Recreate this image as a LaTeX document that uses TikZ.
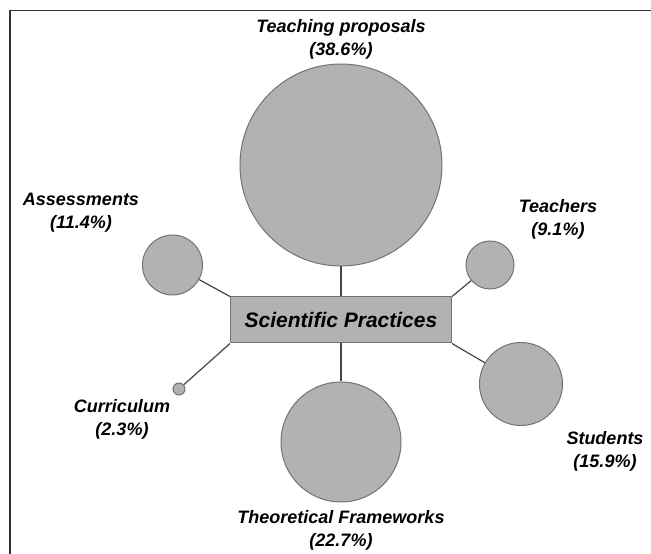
\documentclass[tikz,border=0pt]{standalone}
\usepackage{fontspec}
\setmainfont{Liberation Sans}
\usetikzlibrary{positioning}

\definecolor{bubblegray}{RGB}{178,178,178}
\definecolor{rimgray}{RGB}{115,115,115}
\definecolor{linkgray}{RGB}{70,70,70}

\tikzset{
  bubble/.style={circle, draw=rimgray, fill=bubblegray, line width=1pt, inner sep=0pt},
  caption/.style={align=center, font=\fontsize{18}{23}\selectfont\bfseries\itshape},
  link/.style={draw=linkgray, line width=1.2pt}
}

\begin{document}
\begin{tikzpicture}[x=1pt, y=1pt, node distance=100pt, on grid]
  \useasboundingbox (-341,-234) rectangle (310,320);
  \draw[line width=1.6pt, draw=black!80] (-331,-234) -- (-331,309.5) -- (310,309.5);

  \node[draw=rimgray, fill=bubblegray, line width=1pt, minimum width=221pt, minimum height=46pt,
        font=\fontsize{21}{25}\selectfont\bfseries\itshape] (sp) {Scientific Practices};

  \node[bubble, minimum size=202pt] (tp) [above=155pt of sp] {};
  \node[bubble, minimum size=120pt] (tf) [below=122pt of sp] {};
  \node[bubble, minimum size=60pt] (as) [above left=55pt and 168.5pt of sp] {};
  \node[bubble, minimum size=48pt] (te) [above right=55pt and 149pt of sp] {};
  \node[bubble, minimum size=12pt] (cu) [below left=69pt and 162pt of sp] {};
  \node[bubble, minimum size=83pt] (st) [below right=64pt and 180pt of sp] {};

  \node[caption] (tp-l) [above=126pt of tp] {Teaching proposals\\(38.6\%)};
  \node[caption] (tf-l) [below=88pt of tf] {Theoretical Frameworks\\(22.7\%)};
  \node[caption] (as-l) [above left=52pt and 91.5pt of as] {Assessments\\(11.4\%)};
  \node[caption] (te-l) [above right=46pt and 68pt of te] {Teachers\\(9.1\%)};
  \node[caption] (cu-l) [below left=30.5pt and 57pt of cu] {Curriculum\\(2.3\%)};
  \node[caption] (st-l) [below right=67.5pt and 84pt of st] {Students\\(15.9\%)};

  \path[link]
    (tp) edge (sp)
    (sp) edge (tf)
    (as) edge (sp.north west)
    (te) edge (sp.north east)
    (cu) edge (sp.south west)
    (st) edge (sp.south east);
\end{tikzpicture}
\end{document}
